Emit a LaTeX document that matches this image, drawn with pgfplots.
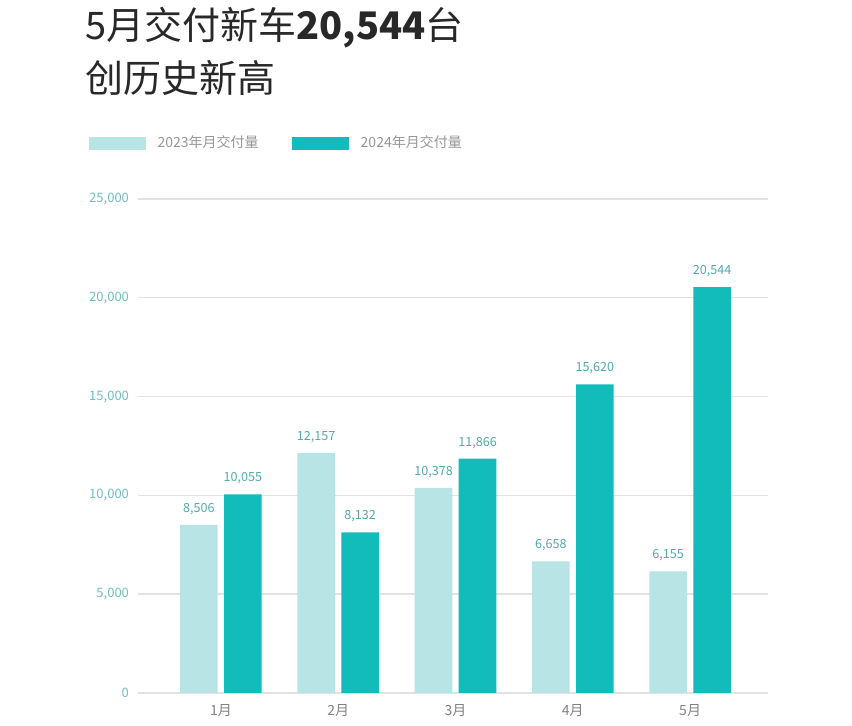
\documentclass[border=0pt]{standalone}
\usepackage{fontspec}
\setmainfont{Noto Sans CJK SC}
\usepackage{pgfplots}
\pgfplotsset{compat=1.18}
\definecolor{lightbar}{RGB}{184,228,230}
\definecolor{darkbar}{RGB}{18,188,186}
\definecolor{ticklab}{RGB}{110,190,190}
\definecolor{nodelab}{RGB}{80,170,170}
\definecolor{gridc}{RGB}{226,226,226}
\definecolor{xlab}{RGB}{130,130,130}
\definecolor{leglab}{RGB}{150,150,150}
\definecolor{titlec}{RGB}{40,40,40}
\begin{document}
\begin{tikzpicture}
\useasboundingbox (0,0) rectangle (426pt,363pt);
\node[anchor=west,inner sep=0pt,font=\fontsize{19pt}{22pt}\selectfont,text=titlec] at (42.5pt,349pt) {5月交付新车\textbf{20,544}台};
\node[anchor=west,inner sep=0pt,font=\fontsize{19pt}{22pt}\selectfont,text=titlec] at (42.5pt,324pt) {创历史新高};
\begin{axis}[
  at={(69pt,16.5pt)}, anchor=south west,
  scale only axis, width=315pt, height=247pt,
  ybar=3.2pt, bar width=18.8pt,
  xmin=-0.707, xmax=4.664, ymin=0, ymax=25000,
  axis line style={draw=none},
  ymajorgrids, grid style={gridc, line width=0.7pt},
  xtick={0,1,2,3,4}, xticklabels={1月,2月,3月,4月,5月},
  ytick={0,5000,10000,15000,20000,25000},
  scaled y ticks=false,
  major tick length=0pt,
  /pgf/number format/assume math mode=true,
  /pgf/number format/1000 sep={,},
  yticklabel style={font=\fontsize{6.5pt}{8pt}\selectfont, text=ticklab, xshift=-1pt},
  xticklabel style={font=\fontsize{7pt}{8pt}\selectfont, text=xlab, yshift=-2pt},
  nodes near coords={\pgfmathprintnumber[1000 sep={,}]{\pgfplotspointmeta}},
  nodes near coords style={font=\fontsize{6.3pt}{8pt}\selectfont, text=nodelab, yshift=1.5pt},
  point meta=explicit,
  legend columns=2,
  legend cell align=left,
  legend style={at={(-0.079,1.1123)}, anchor=west, draw=none, fill=none, inner sep=0pt,
    font=\fontsize{7pt}{8pt}\selectfont, text=leglab,
    /tikz/every odd column/.append style={column sep=4pt},
    /tikz/every even column/.append style={column sep=14.5pt}},
  legend image code/.code={\fill[#1,draw=none] (0pt,-3.25pt) rectangle (28.5pt,3.25pt);},
]
\addplot[fill=lightbar, draw=none] coordinates {(0,8506)[8506] (1,12157)[12157] (2,10378)[10378] (3,6658)[6658] (4,6155)[6155]};
\addplot[fill=darkbar, draw=none] coordinates {(0,10055)[10055] (1,8132)[8132] (2,11866)[11866] (3,15620)[15620] (4,20544)[20544]};
\legend{2023年月交付量, 2024年月交付量}
\end{axis}
\end{tikzpicture}
\end{document}
